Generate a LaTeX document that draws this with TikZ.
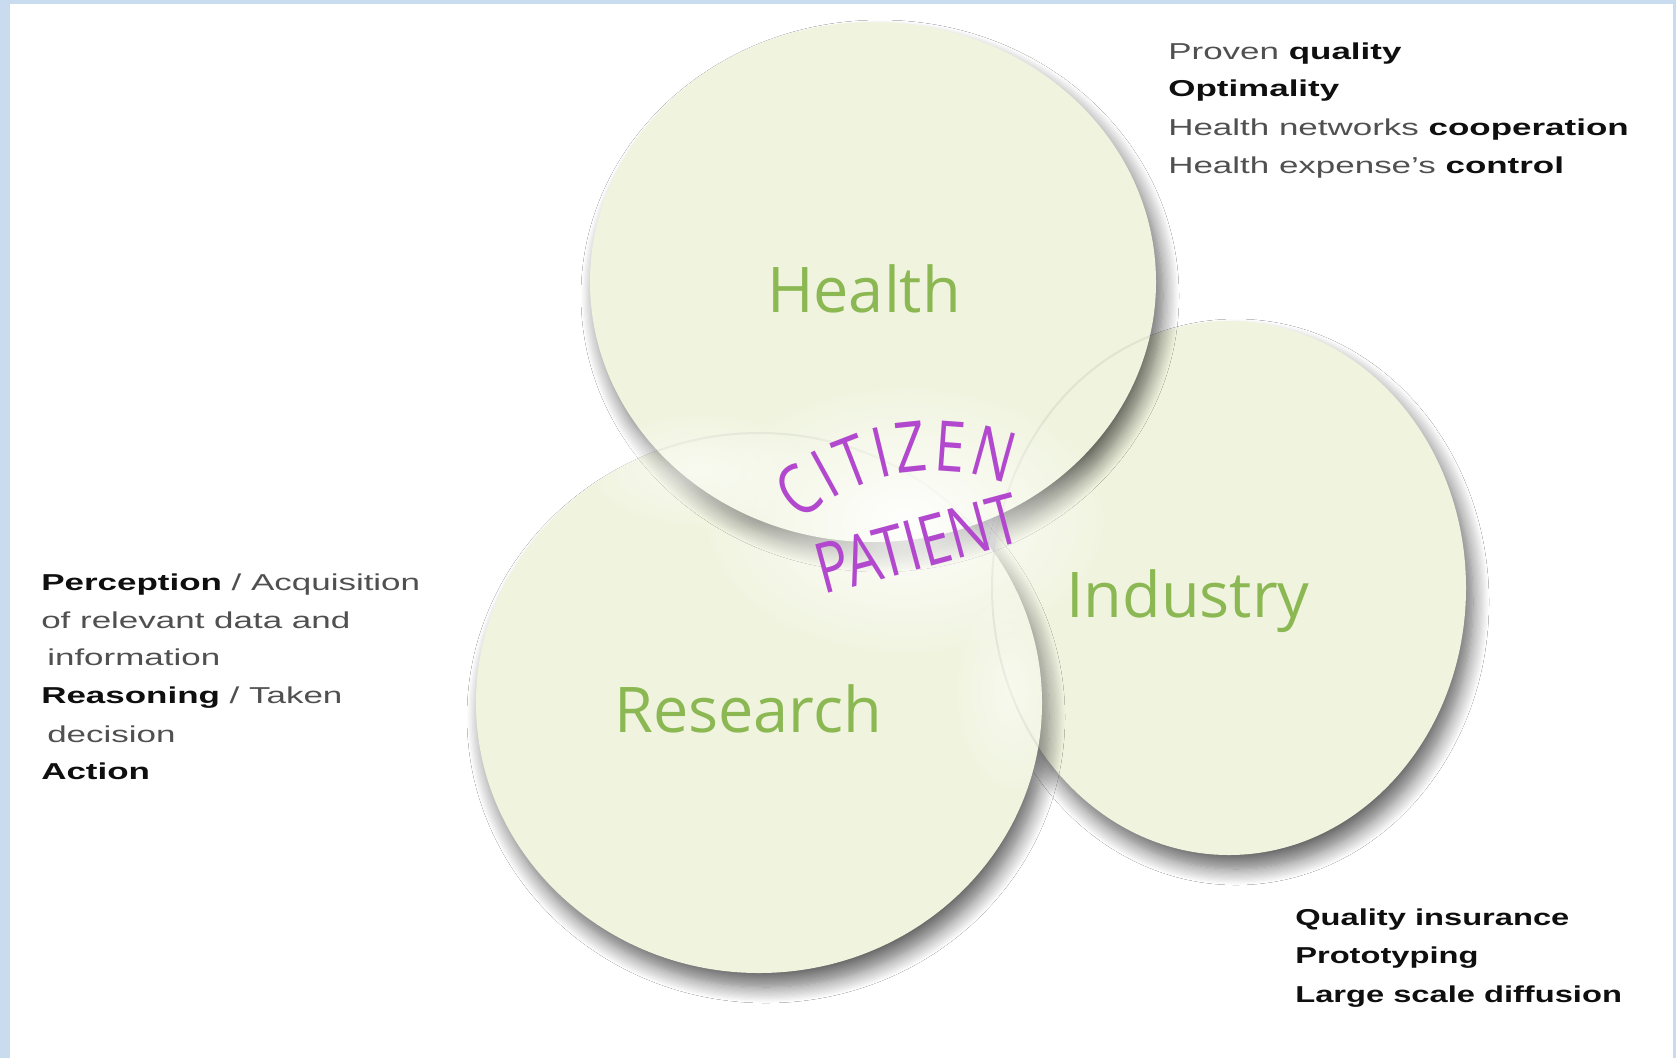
\documentclass[tikz,border=0pt]{standalone}
\usepackage{fontspec}
\setmainfont{Liberation Sans}
\newfontfamily\labfont{Open Sans}
\usetikzlibrary{shapes.geometric,shadows.blur,fadings}
\definecolor{circfill}{RGB}{240,244,222}
\definecolor{labgreen}{RGB}{140,184,84}
\definecolor{cpurple}{RGB}{178,72,206}
\definecolor{framebl}{RGB}{200,219,239}
\definecolor{txtgray}{RGB}{80,80,80}
\definecolor{txtdark}{RGB}{15,15,15}
\newcommand\bfk[1]{{\bfseries\color{txtdark}#1}}
\tikzfading[name=myglow, inner color=transparent!0, outer color=transparent!100]
\begin{document}
\begin{tikzpicture}[x=1pt,y=-1pt,
  venn/.style={ellipse, fill=circfill, inner sep=0,
    blur shadow={shadow xshift=7pt, shadow yshift=-14pt, shadow blur radius=16pt, shadow blur steps=14, shadow opacity=60}},
  lab/.style={font=\labfont\fontsize{63}{63}\selectfont, text=labgreen, anchor=base, inner sep=0},
  cp/.style={font=\labfont\fontsize{70}{70}\selectfont, text=cpurple, anchor=base, inner sep=0},
  blk/.style={anchor=base west, inner sep=0, font=\fontsize{23}{23}\selectfont, text=txtgray, xscale=1.52, transform shape},
  blkb/.style={anchor=base west, inner sep=0, font=\fontsize{23}{23}\selectfont\bfseries, text=txtdark, xscale=1.42, transform shape}
]
\fill[white] (0,0) rectangle (1676,1058);
\useasboundingbox (0,0) rectangle (1676,1058);
\fill[framebl] (0,0) rectangle (10,1058);
\fill[framebl] (0,0) rectangle (1676,4);
\fill[framebl] (1673,0) rectangle (1676,1058);

% circles
\node[venn, minimum width=474pt, minimum height=534pt] (industry) at (1229,588) {};
\node[venn, minimum width=566pt, minimum height=540pt] (research) at (759,703) {};
\node[venn, minimum width=566pt, minimum height=520pt] (health) at (873,282) {};

% faint edges of lower circles seen through
\begin{scope}
\clip (759,703) ellipse (283 and 270);
\draw[circfill!75!black, opacity=0.35, line width=2pt] (1229,588) ellipse (237 and 267);
\end{scope}
\begin{scope}
\clip (873,282) ellipse (283 and 260);
\draw[circfill!75!black, opacity=0.25, line width=2pt] (759,703) ellipse (283 and 270);
\draw[circfill!75!black, opacity=0.25, line width=2pt] (1229,588) ellipse (237 and 267);
\end{scope}

% central glow
\fill[white, path fading=myglow, fill opacity=0.95] (905,520) ellipse (210 and 140);
\fill[white, path fading=myglow, fill opacity=0.6] (700,470) ellipse (120 and 60);
\fill[white, path fading=myglow, fill opacity=0.5] (1010,690) ellipse (60 and 110);

% labels
\node[lab] (lhealth) at (864,312) {Health};
\node[lab] (lresearch) at (748,732) {Research};
\node[lab] (lindustry) at (1188,617) {Industry};

% CITIZEN along an arc
\foreach \ch/\a [count=\i] in {C/127,I/118.8,T/111.2,I/103.6,Z/95.9,E/85.9,N/74.4}
  \node[cp, rotate=\a-90, xscale=0.78, transform shape] (cit\i) at ({934+200*cos(\a)},{671-200*sin(\a)}) {\ch};
\node[cp, rotate=15, xscale=0.78, transform shape] (patient) at (924,568) {PATIENT};

% top-right text
\node[blk] (h1) at (1168,59) {Proven \bfk{quality}};
\node[blk] (h2) at (1168,96) {\bfk{Optimality}};
\node[blk] (h3) at (1168,135) {Health networks \bfk{cooperation}};
\node[blk] (h4) at (1168,173) {Health expense's \bfk{control}};

% left text
\node[blk] (r1) at (41,590) {\bfk{Perception} / Acquisition};
\node[blk] (r2) at (41,628) {of relevant data and};
\node[blk] (r3) at (47,665) {information};
\node[blk] (r4) at (41,703) {\bfk{Reasoning} / Taken};
\node[blk] (r5) at (47,742) {decision};
\node[blk] (r6) at (41,779) {\bfk{Action}};

% bottom-right text
\node[blkb] (i1) at (1295,925) {Quality insurance};
\node[blkb] (i2) at (1295,963) {Prototyping};
\node[blkb] (i3) at (1295,1002) {Large scale diffusion};
\end{tikzpicture}
\end{document}
